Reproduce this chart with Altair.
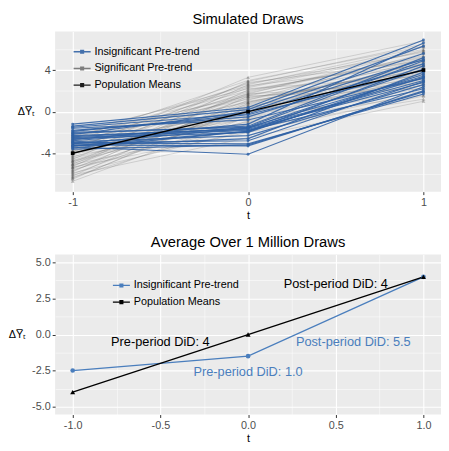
import altair as alt
import pandas as pd

# ---------------- data ----------------
T = [-1, 0, 1]

# Significant pre-trend draws (value at t=-1, t=0, t=1)
gray_tm1 = [-6.7, -6.5, -6.3, -6.2, -6.0, -5.9, -5.8, -5.7, -5.6, -5.5, -5.4, -5.3, -5.2, -5.1, -5.0,
            -4.9, -4.8, -4.7, -4.6, -4.5, -4.4, -4.3, -4.2, -4.1, -4.0, -3.9, -3.8, -3.7, -3.6, -3.5,
            -3.4, -3.3, -3.2, -3.1, -3.0, -2.9, -2.8, -2.7, -2.6, -2.5, -2.4, -2.3, -2.2, -2.0, -6.1,
            -5.35, -4.75, -6.4, -5.05, -3.85]
gray_t0 = [-0.5, 0.8, -1.2, 1.5, 0.2, -1.8, 2.1, 0.5, -0.9, 1.1, -0.2, 2.6, 0.9, -1.5, 0.3,
           1.8, -0.6, 0.6, 2.9, -0.1, 1.3, -1.0, 0.7, 2.3, -0.4, 1.6, 0.1, 3.3, 0.4, 1.9,
           -0.7, 1.0, 2.4, 0.0, 1.4, 2.7, 0.9, 1.7, 3.0, 1.2, 2.0, 1.5, 2.5, 2.2, -2.5,
           -2.0, 0.0, 0.4, 1.7, 2.8]
gray_t1 = [3.2, 4.5, 2.6, 5.1, 3.8, 1.9, 4.9, 4.1, 2.3, 5.6, 3.5, 6.2, 4.4, 1.2, 3.0,
           5.3, 2.8, 4.7, 6.5, 3.7, 4.0, 1.6, 5.0, 5.8, 3.3, 4.6, 2.5, 6.8, 4.2, 5.4,
           2.0, 3.6, 6.0, 4.8, 3.1, 5.7, 4.3, 2.7, 6.3, 3.9, 5.2, 2.2, 4.5, 3.4, 1.0,
           1.5, 2.9, 3.9, 5.9, 4.9]

# Insignificant pre-trend draws
blue_tm1 = [-1.2, -1.4, -1.5, -1.8, -2.0, -2.1, -2.3, -2.4, -2.5, -2.6, -2.8, -2.9, -3.0, -3.1, -3.2,
            -3.3, -3.4, -3.5, -3.6, -2.2, -1.6, -2.7, -3.0, -1.9, -3.3]
blue_t0 = [0.4, 0.2, -0.2, -0.5, -1.5, -1.4, -1.7, -1.6, -1.8, -2.0, -1.5, -2.3, -3.1, -1.6, -3.3,
           -2.6, -4.1, -1.9, -3.2, 0.0, -0.8, -1.2, -2.8, -0.3, -1.9]
blue_t1 = [6.9, 6.3, 5.0, 4.6, 3.4, 5.2, 2.8, 4.1, 2.2, 3.6, 4.9, 2.6, 1.7, 3.0, 2.0,
           3.8, 2.4, 4.4, 1.9, 5.6, 3.2, 6.6, 2.9, 4.0, 3.3]

mean_y = [-4, 0, 4]

# Average over 1 million draws
avg_blue_y = [-2.5, -1.5, 4.0]
avg_mean_y = [-4.0, 0.0, 4.0]

ann_text = ["Post-period DiD: 4", "Pre-period DiD: 4", "Pre-period DiD: 1.0", "Post-period DiD: 5.5"]
ann_x = [0.5, -0.5, 0.0, 0.6]
ann_y = [3.5, -0.5, -2.6, -0.5]
ann_group = ["Population Means", "Population Means", "Insignificant Pre-trend", "Insignificant Pre-trend"]

# ---------------- styling ----------------
BLUE_TOP = "#2D60A4"
BLUE_BOT = "#4A7EBD"
GRAY_LEG = "#6E6E6E"
FONT = "Liberation Sans"
YTITLE = "\u0394Y\u0305\u209c"


def long(prefix, a, b, c):
    rows = []
    for i, (ya, yb, yc) in enumerate(zip(a, b, c)):
        for t, y in zip(T, (ya, yb, yc)):
            rows.append({"id": f"{prefix}{i}", "t": t, "y": y})
    return pd.DataFrame(rows)


gray_df = long("g", gray_tm1, gray_t0, gray_t1)
gray_df["series"] = "Significant Pre-trend"
blue_df = long("b", blue_tm1, blue_t0, blue_t1)
blue_df["series"] = "Insignificant Pre-trend"
mean_df = pd.DataFrame({"t": T, "y": mean_y, "series": "Population Means"})

avg_df = pd.concat([
    pd.DataFrame({"t": T, "y": avg_blue_y, "series": "Insignificant Pre-trend"}),
    pd.DataFrame({"t": T, "y": avg_mean_y, "series": "Population Means"}),
])
ann_df = pd.DataFrame({"label": ann_text, "t": ann_x, "y": ann_y, "series": ann_group})

MINUS = "\u2212"


def axis(values, major_test, fmt, title, is_y=False):
    kw = dict(
        values=values,
        format=fmt,
        labelExpr=f"({major_test}) ? replace(datum.label, '{MINUS}', '-') : ''",
        gridWidth={"condition": {"test": major_test, "value": 1.1}, "value": 0.5},
        tickOpacity={"condition": {"test": major_test, "value": 1}, "value": 0},
        title=title,
    )
    if is_y:
        kw.update(titleAngle=0, titleAlign="right", titleBaseline="middle", titlePadding=6)
    return alt.Axis(**kw)


legend_symbol = "M-1,0H1M-0.16,-0.16H0.16V0.16H-0.16Z"

# ---------------- top panel ----------------
xt = alt.X("t:Q", scale=alt.Scale(domain=[-1.1, 1.1], nice=False, zero=False),
           axis=axis([-1, -0.5, 0, 0.5, 1], "datum.value % 1 === 0", ".0f", "t"))
yt = alt.Y("y:Q", scale=alt.Scale(domain=[-7.7, 7.7], nice=False, zero=False),
           axis=axis([-6, -4, -2, 0, 2, 4, 6], "datum.value % 4 === 0", ".0f", YTITLE, True))

top_color = alt.Color(
    "series:N",
    scale=alt.Scale(domain=["Insignificant Pre-trend", "Significant Pre-trend", "Population Means"],
                    range=[BLUE_TOP, GRAY_LEG, "#000000"]),
    legend=alt.Legend(title=None, orient="none", legendX=18, legendY=11, symbolType=legend_symbol),
)

g_lines = alt.Chart(gray_df).mark_line(color="rgba(105,105,105,0.3)", strokeWidth=0.8).encode(
    x=xt, y=yt, detail="id:N")
g_pts = alt.Chart(gray_df).mark_point(shape="triangle-up", filled=True, size=14,
                                      color="rgba(60,60,60,0.5)").encode(x=xt, y=yt)
b_lines = alt.Chart(blue_df).mark_line(strokeWidth=1.2, opacity=0.88).encode(
    x=xt, y=yt, detail="id:N", color=top_color)
b_pts = alt.Chart(blue_df).mark_point(shape="circle", filled=True, size=9, opacity=0.8,
                                      color=BLUE_TOP).encode(x=xt, y=yt)
m_line = alt.Chart(mean_df).mark_line(strokeWidth=1.4).encode(x=xt, y=yt, color=top_color)
m_pts = alt.Chart(mean_df).mark_point(shape="square", filled=True, size=14, color="#000000",
                                      opacity=1).encode(x=xt, y=yt)

top = alt.layer(g_lines, g_pts, b_lines, b_pts, m_line, m_pts).properties(
    width=393, height=163,
    title=alt.TitleParams("Simulated Draws", fontSize=15, font=FONT, fontWeight="normal",
                          anchor="middle", color="#000000", offset=5),
)

# ---------------- bottom panel ----------------
xb = alt.X("t:Q", scale=alt.Scale(domain=[-1.1, 1.1], nice=False, zero=False),
           axis=axis([-1, -0.75, -0.5, -0.25, 0, 0.25, 0.5, 0.75, 1], "datum.value % 0.5 === 0",
                     ".1f", "t"))
yb = alt.Y("y:Q", scale=alt.Scale(domain=[-5.55, 5.55], nice=False, zero=False),
           axis=axis([-5, -3.75, -2.5, -1.25, 0, 1.25, 2.5, 3.75, 5], "datum.value % 2.5 === 0",
                     ".1f", YTITLE, True))

bot_color = alt.Color(
    "series:N",
    scale=alt.Scale(domain=["Insignificant Pre-trend", "Population Means"],
                    range=[BLUE_BOT, "#000000"]),
    legend=alt.Legend(title=None, orient="none", legendX=58, legendY=22, symbolType=legend_symbol),
)

a_lines = alt.Chart(avg_df).mark_line(strokeWidth=1.3).encode(x=xb, y=yb, detail="series:N",
                                                            color=bot_color)
a_blue_pts = alt.Chart(avg_df[avg_df.series == "Insignificant Pre-trend"]).mark_point(
    shape="circle", filled=True, size=22, opacity=1, color=BLUE_BOT).encode(x=xb, y=yb)
a_mean_pts = alt.Chart(avg_df[avg_df.series == "Population Means"]).mark_point(
    shape="triangle-up", filled=True, size=26, opacity=1, color="#000000").encode(x=xb, y=yb)
ann_black = alt.Chart(ann_df[ann_df.series == "Population Means"]).mark_text(
    fontSize=13, font=FONT, color="#000000").encode(x=xb, y=yb, text="label:N")
ann_blue = alt.Chart(ann_df[ann_df.series == "Insignificant Pre-trend"]).mark_text(
    fontSize=13, font=FONT, color=BLUE_BOT).encode(x=xb, y=yb, text="label:N")

bottom = alt.layer(a_lines, a_blue_pts, a_mean_pts, ann_black, ann_blue).properties(
    width=393, height=163,
    title=alt.TitleParams("Average Over 1 Million Draws", fontSize=15, font=FONT,
                          fontWeight="normal", anchor="middle", color="#000000", offset=5),
)

chart = alt.vconcat(top, bottom, spacing=15).resolve_scale(color="independent").properties(
    padding={"left": 0, "top": 0, "right": 0, "bottom": 0}
).configure_view(fill="#EBEBEB", stroke=None).configure_axis(
    gridColor="#FFFFFF", domain=False, tickColor="#333333", tickSize=3, labelPadding=2,
    labelFont=FONT, labelFontSize=11, labelColor="#4D4D4D", titleFont=FONT, titleFontSize=11,
    titleFontWeight="normal", titleColor="#000000", titlePadding=2,
).configure_legend(
    labelFont=FONT, labelFontSize=11, labelColor="#000000", symbolSize=300, symbolStrokeWidth=1.4,
    rowPadding=2, padding=0, labelOffset=3, labelLimit=300,
)

chart.save("out.html", embed_options={"renderer": "svg", "actions": False})
